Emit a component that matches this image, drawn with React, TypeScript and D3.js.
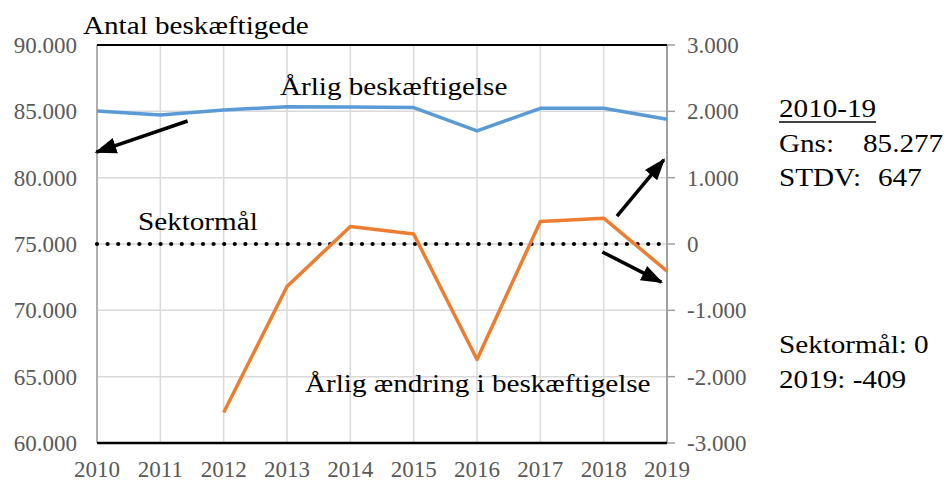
import React from 'react'
import * as d3 from 'd3'

// data
const years = [2010, 2011, 2012, 2013, 2014, 2015, 2016, 2017, 2018, 2019]
const employment = [85020, 84720, 85100, 85350, 85330, 85280, 83520, 85230, 85230, 84400]
const change = [null, null, -2540, -640, 265, 150, -1740, 340, 390, -409]
const sectorGoal = [0, 0, 0, 0, 0, 0, 0, 0, 0, 0]
const leftTicks = [60000, 65000, 70000, 75000, 80000, 85000, 90000]
const rightTicks = [-3000, -2000, -1000, 0, 1000, 2000, 3000]

// arrows: [year, value] from -> to, value on the given axis
const arrows = [
  {axis: 'left', from: [2011.43, 84270], to: [2009.99, 81930]},
  {axis: 'right', from: [2018.21, 420], to: [2018.95, 1270]},
  {axis: 'right', from: [2017.98, -120], to: [2018.91, -575]},
]

const W = 946
const H = 481
const margin = {top: 45, right: 279, bottom: 38, left: 97}
const serif = "'Liberation Serif', 'Times New Roman', Tinos, 'DejaVu Serif', serif"
const grey = '#595959'

const locale = d3.formatLocale({decimal: ',', thousands: '.', grouping: [3], currency: ['', ''], minus: '-'})
const fmt = locale.format(',d')

const Label = ({x, y, children, size = 24.5, sx = 1.19}) => (
  <text transform={`translate(${x},${y}) scale(${sx},1)`} fontSize={size} fill="#000">{children}</text>
)

export default function App() {
  const x = d3.scaleLinear().domain([2010, 2019]).range([margin.left, W - margin.right])
  const yL = d3.scaleLinear().domain([60000, 90000]).range([H - margin.bottom, margin.top])
  const yR = d3.scaleLinear().domain([-3000, 3000]).range([H - margin.bottom, margin.top])

  const blue = d3.line<number>().x((d, i) => x(years[i])).y(d => yL(d))(employment)
  const orange = d3.line<number | null>()
    .defined(d => d != null)
    .x((d, i) => x(years[i])).y(d => yR(d as number))(change)
  const goal = d3.line<number>().x((d, i) => x(years[i])).y(d => yR(d))(sectorGoal)

  const x0 = x(2010), x1 = x(2019)
  const yTop = yL(90000), yBot = yL(60000)

  return (
    <svg width={W} height={H} style={{position: 'absolute', left: 0, top: 0, background: '#fff'}}>
      <defs>
        <marker id="head" markerUnits="userSpaceOnUse" markerWidth="22" markerHeight="22"
          viewBox="0 0 22 22" refX="20" refY="11" orient="auto">
          <path d="M0,3 L22,11 L0,19 Z" fill="#000" />
        </marker>
      </defs>

      <g style={{fontFamily: serif}}>
      {/* grid */}
      {years.map(yr => (
        <line key={'v' + yr} x1={x(yr)} x2={x(yr)} y1={yTop} y2={yBot} stroke="#d9d9d9" strokeWidth={1.5} />
      ))}
      {leftTicks.map(t => (
        <line key={'h' + t} x1={x0} x2={x1} y1={yL(t)} y2={yL(t)} stroke="#d9d9d9" strokeWidth={1.5} />
      ))}

      {/* axes */}
      <line x1={x0} x2={x0} y1={yTop} y2={yBot} stroke="#b0b0b0" strokeWidth={2} />
      <line x1={x1} x2={x1} y1={yTop} y2={yBot} stroke="#a0a0a0" strokeWidth={2} />
      {rightTicks.map(t => (
        <line key={'rt' + t} x1={x1} x2={x1 + 8} y1={yR(t)} y2={yR(t)} stroke="#a0a0a0" strokeWidth={1.5} />
      ))}
      <line x1={x0} x2={x1} y1={yTop} y2={yTop} stroke="#000" strokeWidth={2} />
      <line x1={x0} x2={x1} y1={yBot} y2={yBot} stroke="#000" strokeWidth={2.5} />

      {/* tick labels */}
      {leftTicks.map(t => (
        <text key={'lt' + t} x={x0 - 20} y={yL(t) + 8} textAnchor="end" fontSize={23} fill={grey} fontFamily={serif}>{fmt(t)}</text>
      ))}
      {rightTicks.map(t => (
        <text key={'rl' + t} x={x1 + 20} y={yR(t) + 8} fontSize={23} fill={grey} fontFamily={serif}>{fmt(t)}</text>
      ))}
      {years.map(yr => (
        <text key={'xl' + yr} x={x(yr)} y={H - 4} textAnchor="middle" fontSize={23} fill={grey} fontFamily={serif}>{yr}</text>
      ))}

      {/* series */}
      <path d={goal || ''} fill="none" stroke="#000" strokeWidth={4.2} strokeDasharray="0 10.6" strokeLinecap="round" />
      <path d={blue || ''} fill="none" stroke="#5b9bd5" strokeWidth={3.5} strokeLinejoin="round" />
      <path d={orange || ''} fill="none" stroke="#ed7d31" strokeWidth={3.5} strokeLinejoin="round" />

      {/* arrows */}
      {arrows.map((a, i) => {
        const ys = a.axis === 'left' ? yL : yR
        return (
          <line key={'a' + i} x1={x(a.from[0])} y1={ys(a.from[1])} x2={x(a.to[0])} y2={ys(a.to[1])}
            stroke="#000" strokeWidth={3.5} markerEnd="url(#head)" />
        )
      })}

      {/* annotations */}
      <Label x={83} y={34}>Antal beskæftigede</Label>
      <Label x={280} y={95}>Årlig beskæftigelse</Label>
      <Label x={138} y={230}>Sektormål</Label>
      <Label x={305} y={392}>Årlig ændring i beskæftigelse</Label>

      <Label x={779} y={117}>2010-19</Label>
      <line x1={779} x2={876} y1={122} y2={122} stroke="#000" strokeWidth={1.5} />
      <Label x={779} y={152}>Gns:</Label>
      <Label x={863} y={152}>85.277</Label>
      <Label x={779} y={186}>STDV:</Label>
      <Label x={878} y={186}>647</Label>
      <Label x={779} y={353}>Sektormål: 0</Label>
      <Label x={779} y={388}>2019: -409</Label>
      </g>
    </svg>
  )
}
